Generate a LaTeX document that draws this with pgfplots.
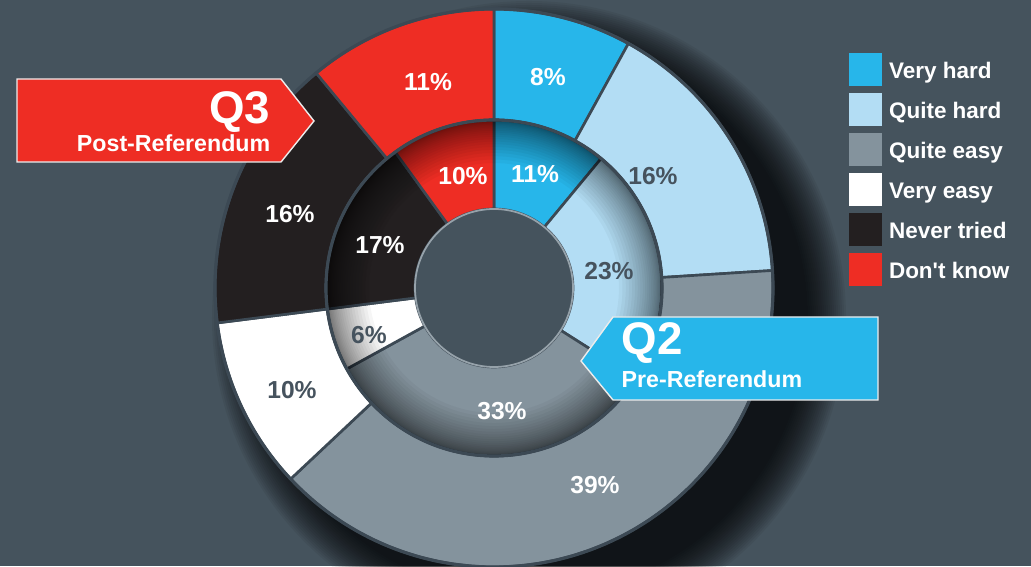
\documentclass[border=0pt]{standalone}
\usepackage{fontspec}
\setmainfont{Liberation Sans}
\newfontfamily\aposfont{Liberation Sans}
\usepackage{pgfplots}
\usepackage{pgfplotstable}
\pgfplotsset{compat=1.18}
\definecolor{bg}{RGB}{69,83,93}
\definecolor{vhard}{RGB}{39,182,234}
\definecolor{qhard}{RGB}{179,221,244}
\definecolor{qeasy}{RGB}{132,147,157}
\definecolor{veasy}{RGB}{255,255,255}
\definecolor{never}{RGB}{35,31,32}
\definecolor{dknow}{RGB}{238,45,36}
\definecolor{bordc}{RGB}{60,73,84}
\definecolor{darktxt}{RGB}{70,83,94}
\definecolor{rimc}{RGB}{150,162,170}

% q3 = outer ring (Post-Referendum), q2 = inner ring (Pre-Referendum)
% ox/oy, ix/iy: label positions (image pixels, y downward)
\pgfplotstableread{
cat        q3 q2 col   tc      ox  oy  ix  iy
VeryHard   8  11 vhard white   548 73  535 170
QuiteHard  16 23 qhard darktxt 653 172 609 267
QuiteEasy  39 33 qeasy white   595 481 502 407
VeryEasy   10 6  veasy darktxt 292 386 369 331
NeverTried 16 17 never white   290 210 380 241
DontKnow   11 10 dknow white   428 78  463 172
}\donut

\newcommand\ringsector[5]{%
  \edef\secplot{\noexpand\addplot[forget plot, fill=#5, draw=bordc, line width=0.75pt,
    samples at={0,1,...,40,40.001,41,42,...,80}]
    ({494+((x<=40)?#1:#2)*cos(90-3.6*(#3+(#4-#3)*((x<=40)?x/40:(80-x)/40)))},
     {278+((x<=40)?#1:#2)*sin(90-3.6*(#3+(#4-#3)*((x<=40)?x/40:(80-x)/40)))}) -- cycle;}%
  \secplot}

\begin{document}
\begin{tikzpicture}
\fill[bg] (0,0) rectangle (10.31cm,5.66cm);
\begin{axis}[
  scale only axis, width=10.31cm, height=5.66cm,
  xmin=0, xmax=1031, ymin=0, ymax=566,
  hide axis, clip=true,
  legend style={at={(axis cs:849,513)}, anchor=north west, draw=none, fill=none,
    inner sep=0pt, outer sep=0pt, row sep=0.07cm, column sep=0.07cm,
    font=\bfseries\fontsize{6.4}{7.5}\selectfont, text=white,
    cells={anchor=west}, nodes={inner sep=0pt, text height=0.72em, text depth=0pt}},
  legend image code/.code={\fill[#1] (0cm,-0.2cm) rectangle (0.33cm,0.13cm);},
]
% soft drop shadow
\pgfplotsinvokeforeach{0,...,19}{%
  \fill[black, opacity=0.055] (axis cs:529,248) circle[radius={2.79cm+#1*0.02cm}];}

\def\cumA{0}\def\cumB{0}
\pgfplotsforeachungrouped \i in {0,...,5}{%
  \pgfplotstablegetelem{\i}{q3}\of\donut \let\vA\pgfplotsretval
  \pgfplotstablegetelem{\i}{q2}\of\donut \let\vB\pgfplotsretval
  \pgfplotstablegetelem{\i}{col}\of\donut \let\vc\pgfplotsretval
  \pgfmathsetmacro\eA{\cumA+\vA}%
  \pgfmathsetmacro\eB{\cumB+\vB}%
  \edef\doit{%
    \noexpand\ringsector{279}{168}{\cumA}{\eA}{\vc}%
    \noexpand\ringsector{168}{79}{\cumB}{\eB}{\vc}}%
  \doit
  \let\cumA\eA \let\cumB\eB
}
% inner shadow on inner ring
\pgfplotsinvokeforeach{1,...,24}{%
  \fill[black, opacity=0.035, even odd rule] (axis cs:494,278) circle[radius=1.68cm] circle[radius={1.68cm-#1*#1*0.00075cm}];}
\draw[bordc, line width=0.9pt] (axis cs:494,278) circle[radius=2.79cm];
\draw[bordc, line width=0.9pt] (axis cs:494,278) circle[radius=1.68cm];
\filldraw[fill=bg, draw=rimc, line width=0.5pt] (axis cs:494,278) circle[radius=0.79cm];

% labels
\pgfplotsforeachungrouped \i in {0,...,5}{%
  \pgfplotstablegetelem{\i}{q3}\of\donut \let\vA\pgfplotsretval
  \pgfplotstablegetelem{\i}{q2}\of\donut \let\vB\pgfplotsretval
  \pgfplotstablegetelem{\i}{tc}\of\donut \let\vt\pgfplotsretval
  \pgfplotstablegetelem{\i}{ox}\of\donut \let\vox\pgfplotsretval
  \pgfplotstablegetelem{\i}{oy}\of\donut \let\voy\pgfplotsretval
  \pgfplotstablegetelem{\i}{ix}\of\donut \let\vix\pgfplotsretval
  \pgfplotstablegetelem{\i}{iy}\of\donut \let\viy\pgfplotsretval
  \pgfmathsetmacro\voyy{566-\voy}%
  \pgfmathsetmacro\viyy{566-\viy}%
  \edef\doit{%
    \noexpand\node[text=\vt, font=\noexpand\bfseries\noexpand\fontsize{7}{8}\noexpand\selectfont, inner sep=0pt, text height=0.72em, text depth=0pt] at (axis cs:\vox,\voyy) {\vA\noexpand\%};
    \noexpand\node[text=\vt, font=\noexpand\bfseries\noexpand\fontsize{7}{8}\noexpand\selectfont, inner sep=0pt, text height=0.72em, text depth=0pt] at (axis cs:\vix,\viyy) {\vB\noexpand\%};}%
  \doit
}

% Q3 tag
\filldraw[fill=dknow, draw=white!85!gray, line width=0.4pt]
  (axis cs:17,487) -- (axis cs:281,487) -- (axis cs:314,445) -- (axis cs:281,404) -- (axis cs:17,404) -- cycle;
\node[anchor=base east, inner sep=0pt, text=white, font=\bfseries\fontsize{13}{15}\selectfont] at (axis cs:271,442) {Q3};
\node[anchor=base east, inner sep=0pt, text=white, font=\bfseries\fontsize{6.6}{8}\selectfont] at (axis cs:271,414) {Post-Referendum};
% Q2 tag
\filldraw[fill=vhard, draw=white!85!gray, line width=0.4pt]
  (axis cs:581,205) -- (axis cs:613,249) -- (axis cs:878,249) -- (axis cs:878,166) -- (axis cs:613,166) -- cycle;
\node[anchor=base west, inner sep=0pt, text=white, font=\bfseries\fontsize{13}{15}\selectfont] at (axis cs:621,211) {Q2};
\node[anchor=base west, inner sep=0pt, text=white, font=\bfseries\fontsize{6.6}{8}\selectfont] at (axis cs:621,178) {Pre-Referendum};

\addlegendimage{fill=vhard, draw=none}\addlegendentry{Very hard}
\addlegendimage{fill=qhard, draw=none}\addlegendentry{Quite hard}
\addlegendimage{fill=qeasy, draw=none}\addlegendentry{Quite easy}
\addlegendimage{fill=veasy, draw=none}\addlegendentry{Very easy}
\addlegendimage{fill=never, draw=none}\addlegendentry{Never tried}
\addlegendimage{fill=dknow, draw=none}\addlegendentry{Don{\aposfont\bfseries'}t know}
\end{axis}
\pgfresetboundingbox
\useasboundingbox (0,0) rectangle (10.31cm,5.66cm);
\end{tikzpicture}
\end{document}
